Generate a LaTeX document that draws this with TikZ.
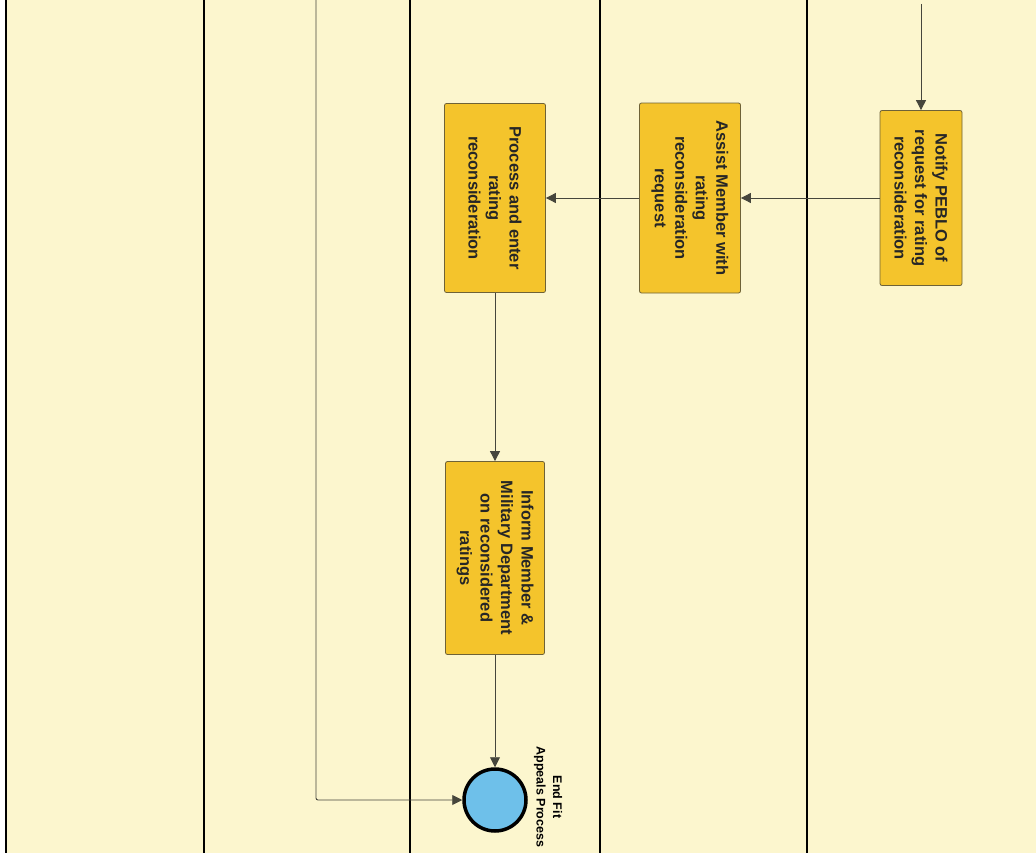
\documentclass[tikz,border=0pt]{standalone}
\usepackage{fontspec}
\setmainfont{Liberation Sans}
\usetikzlibrary{arrows.meta, positioning, calc}

\definecolor{lanebg}{RGB}{252,246,206}
\definecolor{taskfill}{RGB}{244,196,44}
\definecolor{taskline}{RGB}{110,98,55}
\definecolor{endfill}{RGB}{110,192,234}
\definecolor{flowline}{RGB}{70,70,60}

\tikzset{
  task/.style={draw=taskline, line width=0.8pt, fill=taskfill, rounded corners=2pt, rotate=-90, align=center,
    font=\fontsize{16.5}{20.5}\selectfont\bfseries, text=black!85},
  flow/.style={draw=flowline, line width=0.9pt, -{Triangle[width=10pt,length=10pt]}},
  endevent/.style={circle, draw=black, line width=3.5pt, fill=endfill, minimum size=62pt},
  endlabel/.style={rotate=-90, align=center, font=\fontsize{12.5}{16.5}\selectfont\bfseries},
}

\begin{document}
\begin{tikzpicture}[x=1pt, y=-1pt]
  \useasboundingbox (0,0) rectangle (1036,859);
  \fill[lanebg] (6,0) rectangle (1036,853);
  \foreach \x in {6,204,410,600,807} {
    \draw[line width=1.6pt] (\x,0) -- (\x,853);
  }

  \node[task, minimum width=175pt, minimum height=82pt] (notify) at (921,198) {Notify PEBLO of\\request for rating\\reconsideration};
  \node[task, minimum width=190pt, minimum height=101pt] (assist) at (690,198) {Assist Member with\\rating\\reconsideration\\request};
  \node[task, minimum width=189pt, minimum height=101pt] (process) at (495,198) {Process and enter\\rating\\reconsideration};
  \node[task, minimum width=193pt, minimum height=99pt] (inform) at (495,558) {Inform Member \&\\Military Department\\on reconsidered\\ratings};
  \node[endevent] (endev) at (495,800) {};
  \node[endlabel] (endtext) at (548,797) {End Fit\\Appeals Process};

  \coordinate (intop) at (921,4);
  \coordinate (loopin) at (316,0);

  \draw[flow] (intop) -- (notify.west);
  \draw[flow] (notify.south) -- (assist.north);
  \draw[flow] (assist.south) -- (process.north);
  \draw[flow] (process.east) -- (inform.west);
  \draw[flow] (inform.east) -- (endev.north);
  \draw[flow, rounded corners=2pt] (loopin) |- (endev.west);
\end{tikzpicture}
\end{document}
